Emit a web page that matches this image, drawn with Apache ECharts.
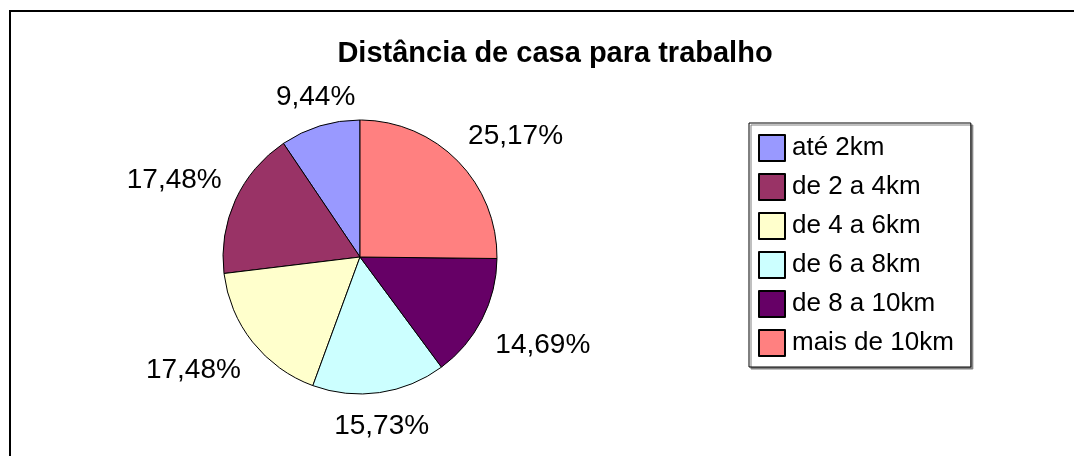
<!DOCTYPE html>
<html>
<head>
<meta charset="utf-8">
<script src="https://cdn.jsdelivr.net/npm/echarts@6/dist/echarts.min.js"></script>
<style>
  html, body { margin: 0; padding: 0; background: #fff; }
  #chart { width: 1074px; height: 456px; }
</style>
</head>
<body>
<div id="chart"></div>
<script>
var categories = ['até 2km', 'de 2 a 4km', 'de 4 a 6km', 'de 6 a 8km', 'de 8 a 10km', 'mais de 10km'];
var counts = [27, 50, 50, 45, 42, 72];
var colors = ['#9999FF', '#993366', '#FFFFCC', '#CCFFFF', '#660066', '#FF8080'];

var CX = 360, CY = 257, R = 137, GAP = 15;
var total = counts.reduce(function (a, b) { return a + b; }, 0);

var myChart = echarts.init(document.getElementById('chart'));

var option = {
  animation: false,
  title: {
    text: 'Distância de casa para trabalho',
    left: 550,
    top: 33,
    textAlign: 'center',
    textStyle: {
      fontFamily: 'Liberation Sans, Arial, sans-serif',
      fontSize: 29,
      fontWeight: 'bold',
      color: '#000',
      lineHeight: 32
    }
  },
  legend: {
    orient: 'vertical',
    left: 749,
    top: 123,
    padding: [11, 17, 10, 9],
    itemWidth: 26,
    itemHeight: 26,
    itemGap: 11,
    icon: 'rect',
    borderColor: '#000',
    borderWidth: 1,
    backgroundColor: '#fff',
    shadowColor: '#808080',
    shadowBlur: 0,
    shadowOffsetX: 2,
    shadowOffsetY: 2,
    selectedMode: false,
    data: categories,
    textStyle: {
      fontFamily: 'Liberation Sans, Arial, sans-serif',
      fontSize: 26,
      lineHeight: 26,
      color: '#000',
      padding: [0, 0, 0, 2]
    }
  },
  graphic: [{
    type: 'rect',
    shape: { x: 10, y: 11, width: 1100, height: 480 },
    style: { fill: 'none', stroke: '#000', lineWidth: 2 },
    z: 0
  }],
  series: [{
    type: 'pie',
    center: [CX, CY],
    radius: R,
    startAngle: 90,
    clockwise: false,
    avoidLabelOverlap: false,
    emphasis: { disabled: true },
    itemStyle: { borderColor: '#000', borderWidth: 1 },
    label: {
      show: true,
      position: 'outside',
      fontFamily: 'Liberation Sans, Arial, sans-serif',
      fontSize: 28,
      color: '#000',
      formatter: function (p) {
        return (p.value / total * 100).toFixed(2).replace('.', ',') + '%';
      }
    },
    labelLine: { show: false },
    labelLayout: function (p) {
      // Excel style: label box sits just outside the arc, on the side the slice faces
      var before = 0;
      for (var i = 0; i < p.dataIndex; i++) before += counts[i];
      var mid = (before + counts[p.dataIndex] / 2) / total * 2 * Math.PI;
      var ux = -Math.sin(mid), uy = -Math.cos(mid);
      var px = CX + (R + GAP) * ux, py = CY + (R + GAP) * uy;
      var sx = Math.abs(ux) > 0.35 ? Math.sign(ux) : 0;
      var sy = Math.abs(uy) > 0.35 ? Math.sign(uy) : 0;
      return {
        x: px + sx * p.labelRect.width / 2,
        y: py + sy * p.labelRect.height / 2 + (sy > 0 ? 5 : 0),
        align: 'center',
        verticalAlign: 'middle'
      };
    },
    data: categories.map(function (c, i) {
      return { name: c, value: counts[i], itemStyle: { color: colors[i] } };
    })
  }]
};

myChart.setOption(option);

window.onresize = function () {
  myChart.resize();
};
</script>
</body>
</html>
